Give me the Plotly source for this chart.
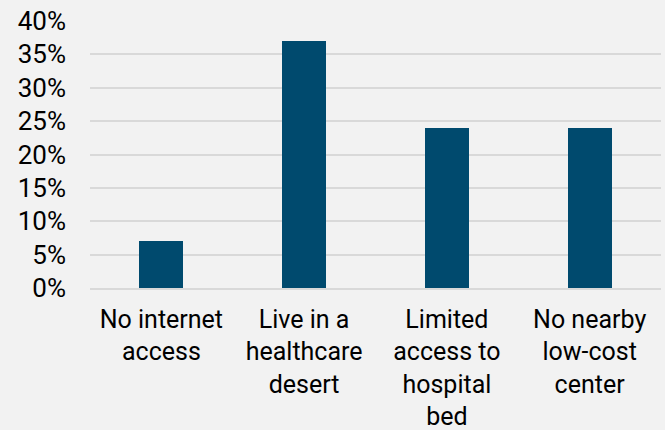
import plotly.graph_objects as go

categories = [
    "No internet<br>access",
    "Live in a<br>healthcare<br>desert",
    "Limited<br>access to<br>hospital<br>bed",
    "No nearby<br>low-cost<br>center",
]
shares = [0.07, 0.37, 0.24, 0.24]

bg = "#f2f2f2"
bar_color = "#004a6e"
grid_color = "#d9d9d9"

fig = go.Figure(
    go.Bar(
        x=categories,
        y=shares,
        marker=dict(color=bar_color, line=dict(width=0)),
        width=0.308,
    )
)

fig.update_layout(
    width=665,
    height=430,
    margin=dict(l=90, r=4, t=21, b=142),
    paper_bgcolor=bg,
    plot_bgcolor=bg,
    font=dict(family="Roboto", size=26, color="#000000"),
    showlegend=False,
    bargap=0,
)

fig.update_yaxes(
    range=[0, 0.4],
    dtick=0.05,
    tickformat=".0%",
    showgrid=True,
    gridcolor=grid_color,
    gridwidth=1.5,
    zeroline=False,
    showline=False,
    ticks="",
    ticklabelstandoff=23,
    automargin=False,
)

fig.update_xaxes(
    showline=True,
    linecolor=grid_color,
    linewidth=1.5,
    ticks="",
    showgrid=False,
    tickangle=0,
    tickfont=dict(size=25),
    ticklabelstandoff=8,
    automargin=False,
)

fig.write_html("out.html")
